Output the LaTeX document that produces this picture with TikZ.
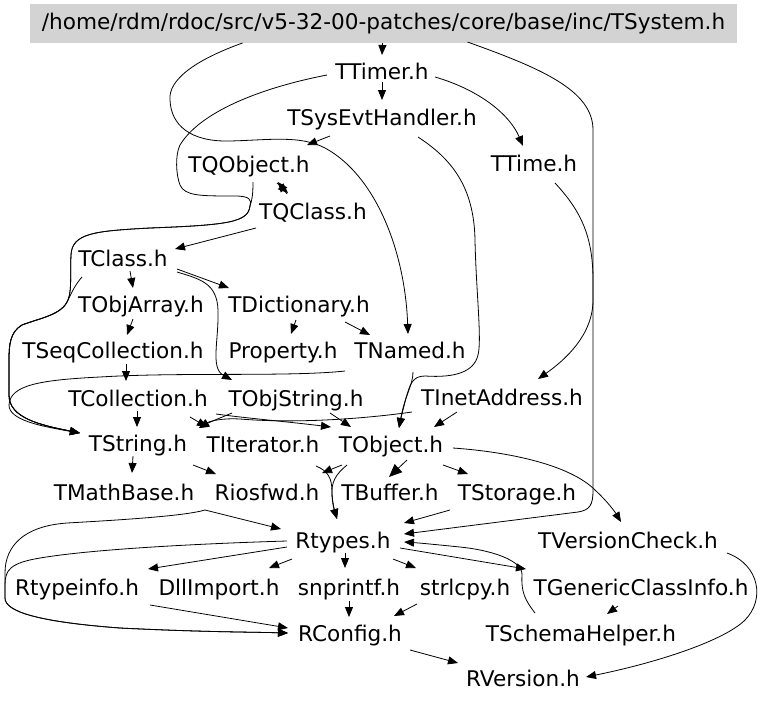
\documentclass[tikz,border=0pt]{standalone}
\usepackage{fontspec}
\setmainfont{DejaVu Sans}
\usetikzlibrary{arrows.meta}
\begin{document}
\begin{tikzpicture}[x=1pt,y=-1pt,
  lbl/.style={inner sep=0pt,text height=16pt,text depth=0pt,font=\fontsize{21.6}{25}\selectfont},
  hdr/.style={fill={rgb,255:red,211;green,211;blue,211},inner sep=0pt,minimum width=707pt,minimum height=39pt,font=\fontsize{21.6}{25}\selectfont},
  edge/.style={line width=0.8pt,-{Triangle[length=10pt,width=8pt]}},
  bigedge/.style={line width=0.8pt,-{Triangle[length=13pt,width=11pt]}}]
\fill[white] (0,0) rectangle (768,704);
\useasboundingbox (0,0) rectangle (768,704);
% nodes
\node[hdr] (TSys) at (383.5,23.5) {/home/rdm/rdoc/src/v5-32-00-patches/core/base/inc/TSystem.h};
\node[lbl] (TTimer) at (382,71) {TTimer.h};
\node[lbl] (TSysEvt) at (382,117) {TSysEvtHandler.h};
\node[lbl] (TQObject) at (249,164) {TQObject.h};
\node[lbl] (TTime) at (534,163) {TTime.h};
\node[lbl] (TQClass) at (313,211) {TQClass.h};
\node[lbl] (TClass) at (123,258) {TClass.h};
\node[lbl] (TObjArray) at (141,304) {TObjArray.h};
\node[lbl] (TDict) at (299,304) {TDictionary.h};
\node[lbl] (TSeqColl) at (113,350) {TSeqCollection.h};
\node[lbl] (Property) at (283,350) {Property.h};
\node[lbl] (TNamed) at (410,350) {TNamed.h};
\node[lbl] (TColl) at (138,398) {TCollection.h};
\node[lbl] (TObjString) at (296,398) {TObjString.h};
\node[lbl] (TInet) at (502,397) {TInetAddress.h};
\node[lbl] (TString) at (138,443) {TString.h};
\node[lbl] (TIter) at (263,444) {TIterator.h};
\node[lbl] (TObject) at (391,444) {TObject.h};
\node[lbl] (TMath) at (124,492) {TMathBase.h};
\node[lbl] (Riosfwd) at (267,492) {Riosfwd.h};
\node[lbl] (TBuffer) at (390,492) {TBuffer.h};
\node[lbl] (TStorage) at (517,492) {TStorage.h};
\node[lbl] (Rtypes) at (343,540) {Rtypes.h};
\node[lbl] (TVersion) at (628,540) {TVersionCheck.h};
\node[lbl] (Rtypeinfo) at (77,587) {Rtypeinfo.h};
\node[lbl] (DllImport) at (219,587) {DllImport.h};
\node[lbl] (snprintf) at (349,587) {snprintf.h};
\node[lbl] (strlcpy) at (465,587) {strlcpy.h};
\node[lbl] (TGeneric) at (641,587) {TGenericClassInfo.h};
\node[lbl] (RConfig) at (350,633) {RConfig.h};
\node[lbl] (TSchema) at (581,633) {TSchemaHelper.h};
\node[lbl] (RVersion) at (523,678) {RVersion.h};
% edges
\draw[edge] ([shift={(-1,19.5)}]TSys.center) -- ([shift={(0,-16)}]TTimer.center);
\draw[edge] ([shift={(0,11)}]TTimer.center) -- ([shift={(0,-17)}]TSysEvt.center);
\draw[edge] ([shift={(53,6)}]TTimer.center) .. controls (480,90) and (510,115) .. ([shift={(-11,-17)}]TTime.center);
\draw[edge] ([shift={(-141,19.5)}]TSys.center) .. controls (195,60) and (168,80) .. (170,100)
  .. controls (171,125) and (190,142) .. (230,141) .. controls (270,140) and (300,135) .. (325,148)
  .. controls (375,175) and (405,250) .. ([shift={(-2,-16)}]TNamed.center);
\draw[edge] ([shift={(-52,19)}]TSysEvt.center) -- ([shift={(58,-19)}]TQObject.center);
% to TString (left bundle)
\draw[edge] ([shift={(-55,4)}]TTimer.center) .. controls (260,88) and (200,112) .. (180,145)
  .. controls (175,155) and (176,175) .. (180,185) .. controls (185,196) and (200,196) .. (235,196)
  .. controls (250,196) and (252,200) .. (250,206) .. controls (248,222) and (230,225) .. (150,228)
  .. controls (95,231) and (72,233) .. (71,255) .. controls (70,275) and (72,290) .. (68,300)
  .. controls (62,315) and (40,318) .. (22,325) .. controls (10,332) and (9,345) .. (9,360) -- (9,395)
  .. controls (9,418) and (40,425) .. ([shift={(-58,-10)}]TString.center);
\draw[edge] ([shift={(4,18)}]TQObject.center) .. controls (253,195) and (252,200) .. (250,206)
  .. controls (248,222) and (230,225) .. (150,228)
  .. controls (95,231) and (72,233) .. (71,255) .. controls (70,275) and (72,290) .. (68,300)
  .. controls (62,315) and (40,318) .. (22,325) .. controls (10,332) and (9,345) .. (9,360) -- (9,395)
  .. controls (9,418) and (40,425) .. ([shift={(-58,-10)}]TString.center);
\draw[edge] ([shift={(-41,19)}]TClass.center) .. controls (75,285) and (72,292) .. (68,300)
  .. controls (62,315) and (40,318) .. (22,325) .. controls (10,332) and (9,345) .. (9,360) -- (9,395)
  .. controls (9,418) and (40,425) .. ([shift={(-58,-10)}]TString.center);
\draw[edge] ([shift={(-65,21)}]TNamed.center) .. controls (290,377) and (180,372) .. (100,377)
  .. controls (40,380) and (10,385) .. (9,405) .. controls (9,420) and (40,426) .. ([shift={(-58,-10)}]TString.center);
% TQ*
\draw[edge] ([shift={(-57,17)}]TQClass.center) -- ([shift={(52,-9)}]TClass.center);
\draw[edge] ([shift={(28,19)}]TQObject.center) -- ([shift={(-25,-18)}]TQClass.center);
\draw[edge] ([shift={(-26,-17)}]TQClass.center) -- ([shift={(29,18)}]TQObject.center);
% TClass
\draw[edge] ([shift={(7,13)}]TClass.center) -- ([shift={(-8,-16)}]TObjArray.center);
\draw[edge] ([shift={(54,11)}]TClass.center) -- ([shift={(-70,-16)}]TDict.center);
\draw[edge] ([shift={(54,14)}]TClass.center) .. controls (200,279) and (217,283) .. (218,310)
  .. controls (219,340) and (210,368) .. ([shift={(-64,-18)}]TObjString.center);
\draw[edge] ([shift={(-8,15)}]TObjArray.center) -- ([shift={(14,-15)}]TSeqColl.center);
\draw[edge] ([shift={(13,14)}]TSeqColl.center) -- ([shift={(-12,-17)}]TColl.center);
\draw[edge] ([shift={(-3,16)}]TDict.center) -- ([shift={(8,-16)}]Property.center);
\draw[edge] ([shift={(46,18)}]TDict.center) -- ([shift={(-40,-15)}]TNamed.center);
% row TCollection
\draw[edge] ([shift={(-1,13)}]TColl.center) -- ([shift={(-1,-16)}]TString.center);
\draw[edge] ([shift={(52,19)}]TColl.center) -- ([shift={(-56,-17)}]TIter.center);
\draw[edge] ([shift={(78,16)}]TColl.center) .. controls (245,418) and (290,422) .. ([shift={(-60,-17)}]TObject.center);
\draw[edge] ([shift={(-90,15)}]TInet.center) .. controls (370,418) and (300,424) .. (240,419)
  .. controls (222,418) and (210,421) .. ([shift={(61,-15)}]TString.center);
\draw[edge] ([shift={(-64,15)}]TObjString.center) .. controls (220,418) and (210,422) .. ([shift={(61,-15)}]TString.center);
\draw[edge] ([shift={(34,15)}]TObjString.center) -- ([shift={(-40,-17)}]TObject.center);
\draw[edge] ([shift={(3,22)}]TNamed.center) .. controls (413,385) and (405,395) .. ([shift={(8,-16)}]TObject.center);
\draw[edge] ([shift={(36,20)}]TSysEvt.center) .. controls (450,158) and (474,185) .. (475,240)
  .. controls (476,290) and (482,340) .. (478,355) .. controls (474,372) and (455,378) .. (425,376)
  .. controls (412,376) and (410,385) .. (406,398) .. controls (403,410) and (401,418) .. ([shift={(8,-16)}]TObject.center);
\draw[edge] ([shift={(84,18.5)}]TSys.center) .. controls (540,68) and (593,90) .. (593,130) -- (593,300)
  .. controls (593,335) and (565,360) .. ([shift={(36,-18)}]TInet.center);
\draw[edge] ([shift={(21,20)}]TTime.center) .. controls (580,210) and (593,235) .. (593,280) -- (593,490)
  .. controls (593,505) and (590,510) .. (578,512) -- ([shift={(61,-6)}]Rtypes.center);
\draw[edge] ([shift={(-45,15)}]TInet.center) -- ([shift={(43,-17)}]TObject.center);
% row TString
\draw[edge] ([shift={(-5,13)}]TString.center) -- ([shift={(8,-19)}]TMath.center);
\draw[edge] ([shift={(55,22)}]TString.center) -- ([shift={(-51,-18)}]Riosfwd.center);
\draw[edge] ([shift={(-49,21)}]TObject.center) -- ([shift={(55,-19)}]Riosfwd.center);
\draw[edge] ([shift={(53,22)}]TIter.center) .. controls (328,471) and (332,478) .. (332,492)
  .. controls (332,505) and (335,512) .. ([shift={(-6,-21)}]Rtypes.center);
\draw[edge] ([shift={(-44,21)}]TObject.center) .. controls (336,474) and (331,482) .. (332,495)
  .. controls (333,505) and (335,512) .. ([shift={(-6,-21)}]Rtypes.center);
\draw[bigedge] ([shift={(16,16)}]TObject.center) -- ([shift={(-1,-15)}]TBuffer.center);
\draw[edge] ([shift={(52,21)}]TObject.center) -- ([shift={(-49,-18)}]TStorage.center);
\draw[edge] ([shift={(62,4)}]TObject.center) .. controls (510,452) and (570,465) .. (595,490)
  .. controls (608,502) and (615,512) .. ([shift={(-7,-18)}]TVersion.center);
% row TMathBase
\draw[edge] ([shift={(81,18)}]TMath.center) -- ([shift={(-62,-11)}]Rtypes.center);
\draw[edge] ([shift={(-62,18)}]Riosfwd.center) .. controls (185,516) and (120,520) .. (67,523)
  .. controls (25,526) and (5,545) .. (5,573) -- (5,598) .. controls (5,612) and (40,622) .. (120,628)
  .. controls (200,632) and (250,632) .. ([shift={(-62,0)}]RConfig.center);
\draw[edge] ([shift={(-67,18)}]TStorage.center) -- ([shift={(61,-17)}]Rtypes.center);
% Rtypes
\draw[edge] ([shift={(-56,1)}]Rtypes.center) .. controls (220,543) and (100,548) .. (40,558)
  .. controls (10,563) and (5,570) .. (5,585) -- (5,598) .. controls (5,612) and (40,622) .. (120,628)
  .. controls (200,632) and (250,632) .. ([shift={(-62,0)}]RConfig.center);
\draw[edge] ([shift={(-56,7)}]Rtypes.center) -- ([shift={(71,-18)}]Rtypeinfo.center);
\draw[edge] ([shift={(73,18)}]Rtypeinfo.center) -- ([shift={(-62,-5)}]RConfig.center);
\draw[edge] ([shift={(-51,19)}]Rtypes.center) -- ([shift={(50,-19)}]DllImport.center);
\draw[edge] ([shift={(2,13)}]Rtypes.center) -- ([shift={(-4,-19)}]snprintf.center);
\draw[edge] ([shift={(50,19)}]Rtypes.center) -- ([shift={(-49,-19)}]strlcpy.center);
\draw[edge] ([shift={(57,8)}]Rtypes.center) -- ([shift={(-115,-18)}]TGeneric.center);
\draw[edge] ([shift={(-46,-20)}]TSchema.center) .. controls (525,600) and (521,592) .. (522,575)
  .. controls (523,560) and (490,550) .. (460,547) .. controls (440,545) and (420,543) .. ([shift={(61,2)}]Rtypes.center);
\draw[edge] ([shift={(0,14)}]snprintf.center) -- ([shift={(-1,-16)}]RConfig.center);
\draw[edge] ([shift={(-48,17)}]strlcpy.center) -- ([shift={(44,-17)}]RConfig.center);
\draw[edge] ([shift={(-23,19)}]TGeneric.center) -- ([shift={(26,-19)}]TSchema.center);
\draw[edge] ([shift={(60,17)}]RConfig.center) -- ([shift={(-65,-15)}]RVersion.center);
\draw[edge] ([shift={(99,13)}]TVersion.center) .. controls (760,565) and (765,600) .. (745,620)
  .. controls (725,640) and (660,662) .. ([shift={(63,-1)}]RVersion.center);
\end{tikzpicture}
\end{document}
